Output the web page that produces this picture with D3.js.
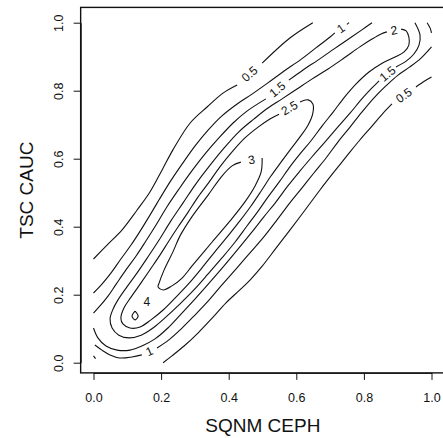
<!DOCTYPE html>
<html>
<head>
<meta charset="utf-8">
<script src="https://cdn.jsdelivr.net/npm/d3@7"></script>
<style>
  body { margin: 0; background: #fff; }
  svg { display: block; font-family: "Liberation Sans", Arial, Helvetica, sans-serif; }
</style>
</head>
<body>
<svg id="chart" width="443" height="438"></svg>
<script>
// axis ticks
const xTicks = [0, 0.2, 0.4, 0.6, 0.8, 1.0];
const yTicks = [0, 0.2, 0.4, 0.6, 0.8, 1.0];
const xTitle = "SQNM CEPH";
const yTitle = "TSC CAUC";

// contour pieces, [x, y] in data units
const lvl05upA = [[0.0,0.305],[0.040,0.346],[0.084,0.390],[0.129,0.449],[0.167,0.502],[0.203,0.567],[0.235,0.626],[0.286,0.705],[0.336,0.752],[0.383,0.793],[0.425,0.817]];
const lvl05upB = [[0.499,0.881],[0.581,0.955],[0.649,1.0]];
const lvl05lowA = [[0.206,0.0],[0.232,0.020],[0.268,0.049],[0.309,0.087],[0.351,0.131],[0.392,0.176],[0.433,0.214],[0.463,0.243],[0.499,0.284],[0.540,0.337],[0.581,0.390],[0.626,0.449],[0.670,0.508],[0.714,0.564],[0.759,0.620],[0.788,0.655],[0.824,0.696],[0.857,0.734],[0.883,0.761]];
const lvl05lowB = [[0.954,0.811],[0.981,0.829],[1.0,0.840]];
const lvl05corner = [[0.0,0.020],[0.006,0.012]];

const lvl1upA = [[0.0,0.205],[0.025,0.231],[0.052,0.264],[0.081,0.305],[0.111,0.346],[0.138,0.387],[0.164,0.429],[0.194,0.479],[0.226,0.531],[0.262,0.584],[0.300,0.637],[0.339,0.684],[0.380,0.726],[0.425,0.761],[0.469,0.790],[0.516,0.823],[0.564,0.858],[0.611,0.890],[0.658,0.926],[0.700,0.958],[0.714,0.970]];
const lvl1upB = [[0.750,0.995],[0.756,1.0]];
const lvl1lowA = [[0.004,0.052],[0.025,0.037],[0.049,0.023],[0.078,0.014],[0.114,0.017],[0.143,0.023]];
const lvl1lowB = [[0.188,0.043],[0.223,0.067],[0.259,0.099],[0.297,0.137],[0.339,0.181],[0.380,0.229],[0.422,0.276],[0.463,0.323],[0.504,0.370],[0.543,0.420],[0.581,0.470],[0.617,0.514],[0.652,0.558],[0.688,0.602],[0.723,0.649],[0.759,0.693],[0.794,0.737],[0.830,0.779],[0.865,0.814],[0.901,0.846],[0.936,0.870],[0.969,0.896],[1.0,0.929]];
const lvl1corner = [[1.0,0.970],[0.996,0.984],[0.987,1.0]];

const lvl15upA = [[0.0,0.146],[0.019,0.167],[0.043,0.196],[0.067,0.231],[0.096,0.273],[0.126,0.314],[0.155,0.358],[0.185,0.405],[0.217,0.458],[0.253,0.511],[0.291,0.564],[0.330,0.614],[0.371,0.661],[0.413,0.705],[0.454,0.740],[0.510,0.776]];
const lvl15upB = [[0.578,0.831],[0.620,0.861],[0.664,0.890],[0.712,0.923],[0.759,0.955],[0.794,0.979],[0.824,1.0]];
const lvl15lowA = [[0.0,0.102],[0.013,0.073],[0.037,0.049],[0.070,0.037],[0.108,0.037],[0.143,0.049],[0.182,0.070],[0.220,0.102],[0.259,0.143],[0.300,0.187],[0.342,0.234],[0.383,0.281],[0.425,0.331],[0.466,0.381],[0.504,0.429],[0.540,0.473],[0.575,0.520],[0.611,0.564],[0.646,0.605],[0.682,0.646],[0.720,0.690],[0.759,0.734],[0.794,0.776],[0.824,0.808],[0.845,0.829]];
const lvl15lowB = [[0.895,0.870],[0.925,0.887],[0.948,0.908],[0.963,0.934],[0.966,0.964],[0.951,1.0]];

const lvl2 = [[0.910,0.981],[0.925,0.976],[0.933,0.958],[0.933,0.934],[0.919,0.914],[0.892,0.899],[0.854,0.881],[0.815,0.855],[0.777,0.820],[0.741,0.779],[0.709,0.737],[0.676,0.696],[0.643,0.652],[0.611,0.614],[0.581,0.576],[0.549,0.531],[0.516,0.487],[0.487,0.446],[0.454,0.402],[0.419,0.355],[0.380,0.308],[0.339,0.261],[0.297,0.214],[0.256,0.173],[0.214,0.134],[0.176,0.102],[0.141,0.081],[0.105,0.073],[0.075,0.081],[0.055,0.102],[0.049,0.129],[0.058,0.158],[0.072,0.184],[0.099,0.223],[0.129,0.264],[0.161,0.311],[0.194,0.361],[0.229,0.417],[0.265,0.470],[0.303,0.526],[0.345,0.581],[0.386,0.631],[0.430,0.679],[0.475,0.717],[0.516,0.749],[0.558,0.776],[0.602,0.805],[0.646,0.834],[0.694,0.864],[0.741,0.896],[0.788,0.929],[0.824,0.952],[0.851,0.967],[0.868,0.973]];

const lvl25 = [[0.611,0.767],[0.635,0.773],[0.649,0.761],[0.649,0.734],[0.635,0.699],[0.611,0.664],[0.584,0.629],[0.555,0.590],[0.525,0.549],[0.496,0.505],[0.466,0.461],[0.433,0.417],[0.398,0.373],[0.359,0.326],[0.321,0.279],[0.283,0.234],[0.244,0.193],[0.206,0.155],[0.170,0.126],[0.138,0.105],[0.108,0.102],[0.087,0.114],[0.081,0.131],[0.090,0.161],[0.111,0.193],[0.138,0.231],[0.167,0.273],[0.197,0.317],[0.223,0.358],[0.250,0.399],[0.280,0.443],[0.309,0.487],[0.342,0.531],[0.374,0.576],[0.410,0.620],[0.448,0.661],[0.487,0.693],[0.522,0.717],[0.549,0.731]];

const lvl3 = [[0.499,0.602],[0.496,0.561],[0.478,0.520],[0.448,0.473],[0.404,0.417],[0.351,0.355],[0.291,0.284],[0.262,0.249],[0.232,0.226],[0.206,0.214],[0.191,0.223],[0.194,0.234],[0.209,0.273],[0.235,0.326],[0.256,0.373],[0.291,0.429],[0.339,0.493],[0.380,0.549],[0.410,0.579],[0.436,0.590]];

const lvl4 = [[0.123,0.152],[0.132,0.137],[0.123,0.126],[0.114,0.137],[0.123,0.152]];
const lvl4LabelAt = [0.158, 0.179];

// labelAfter: the label sits in the gap after that piece
const contours = [
  { level: 0.5, pieces: [lvl05upA, lvl05upB], labelAfter: 0 },
  { level: 0.5, pieces: [lvl05lowA, lvl05lowB], labelAfter: 0 },
  { level: 0.5, pieces: [lvl05corner], labelAfter: null },
  { level: 1, pieces: [lvl1upA, lvl1upB], labelAfter: 0 },
  { level: 1, pieces: [lvl1lowA, lvl1lowB, lvl1corner], labelAfter: 0 },
  { level: 1.5, pieces: [lvl15upA, lvl15upB], labelAfter: 0 },
  { level: 1.5, pieces: [lvl15lowA, lvl15lowB], labelAfter: 0 },
  { level: 2, pieces: [lvl2], labelAfter: 0 },
  { level: 2.5, pieces: [lvl25], labelAfter: 0 },
  { level: 3, pieces: [lvl3], labelAfter: 0 },
  { level: 4, pieces: [lvl4], labelAfter: null }
];

const svg = d3.select("#chart");

// plot region (R style, a little wider than the data)
const x = d3.scaleLinear().domain([0, 1]).range([93.5, 431.5]);
const y = d3.scaleLinear().domain([0, 1]).range([362.7, 22.7]);
const xlim = [-0.038, 1.04];
const ylim = [-0.03, 1.045];

const ink = "#111";

// contour lines
const line = d3.line()
  .x(d => x(d[0]))
  .y(d => y(d[1]))
  .curve(d3.curveCatmullRom.alpha(0.5));

const g = svg.append("g").attr("class", "contours");

contours.forEach(c => {
  c.pieces.forEach(p => {
    g.append("path")
      .attr("d", line(p))
      .attr("fill", "none")
      .attr("stroke", ink)
      .attr("stroke-width", 1.1)
      .attr("stroke-linejoin", "round");
  });

  if (c.labelAfter === null) return;
  const a = c.pieces[c.labelAfter];
  const b = c.pieces[(c.labelAfter + 1) % c.pieces.length];
  const p0 = a[a.length - 1], p1 = b[0];
  const x0 = x(p0[0]), y0 = y(p0[1]), x1 = x(p1[0]), y1 = y(p1[1]);
  let ang = Math.atan2(y1 - y0, x1 - x0) * 180 / Math.PI;
  if (ang > 90) ang -= 180;
  if (ang <= -90) ang += 180;
  g.append("text")
    .attr("transform", `translate(${(x0 + x1) / 2},${(y0 + y1) / 2}) rotate(${ang})`)
    .attr("text-anchor", "middle")
    .attr("dominant-baseline", "central")
    .attr("font-size", 12)
    .attr("fill", ink)
    .text(String(c.level));
});

// label of the small peak
g.append("text")
  .attr("x", x(lvl4LabelAt[0]))
  .attr("y", y(lvl4LabelAt[1]))
  .attr("text-anchor", "middle")
  .attr("dominant-baseline", "central")
  .attr("font-size", 12)
  .attr("fill", ink)
  .text("4");

// box
svg.append("rect")
  .attr("x", x(xlim[0]))
  .attr("y", y(ylim[1]))
  .attr("width", x(xlim[1]) - x(xlim[0]))
  .attr("height", y(ylim[0]) - y(ylim[1]))
  .attr("fill", "none")
  .attr("stroke", ink)
  .attr("stroke-width", 1.4);

// x axis
const xAxis = svg.append("g")
  .attr("transform", `translate(0,${y(ylim[0])})`)
  .call(d3.axisBottom(x).tickValues(xTicks).tickFormat(d3.format(".1f"))
    .tickSize(7).tickSizeOuter(0).tickPadding(13));
xAxis.select(".domain").attr("stroke", ink);
xAxis.selectAll(".tick line").attr("stroke", ink);
xAxis.selectAll("text")
  .attr("font-size", 12.5)
  .attr("font-family", "Liberation Sans, Arial, sans-serif")
  .attr("fill", ink);

// y axis, labels turned like R's las = 0
const yAxis = svg.append("g")
  .attr("transform", `translate(${x(xlim[0])},0)`)
  .call(d3.axisLeft(y).tickValues(yTicks).tickFormat(d3.format(".1f"))
    .tickSize(7).tickSizeOuter(0));
yAxis.select(".domain").attr("stroke", ink);
yAxis.selectAll(".tick line").attr("stroke", ink);
yAxis.selectAll("text")
  .attr("x", null)
  .attr("dy", null)
  .attr("text-anchor", "middle")
  .attr("transform", "translate(-18,0) rotate(-90)")
  .attr("font-size", 12.5)
  .attr("font-family", "Liberation Sans, Arial, sans-serif")
  .attr("fill", ink);

// axis titles
svg.append("text")
  .attr("x", x((xlim[0] + xlim[1]) / 2))
  .attr("y", 432)
  .attr("text-anchor", "middle")
  .attr("font-size", 19)
  .attr("fill", ink)
  .text(xTitle);

svg.append("text")
  .attr("transform", `translate(33,${y((ylim[0] + ylim[1]) / 2)}) rotate(-90)`)
  .attr("text-anchor", "middle")
  .attr("font-size", 19)
  .attr("fill", ink)
  .text(yTitle);
</script>
</body>
</html>
